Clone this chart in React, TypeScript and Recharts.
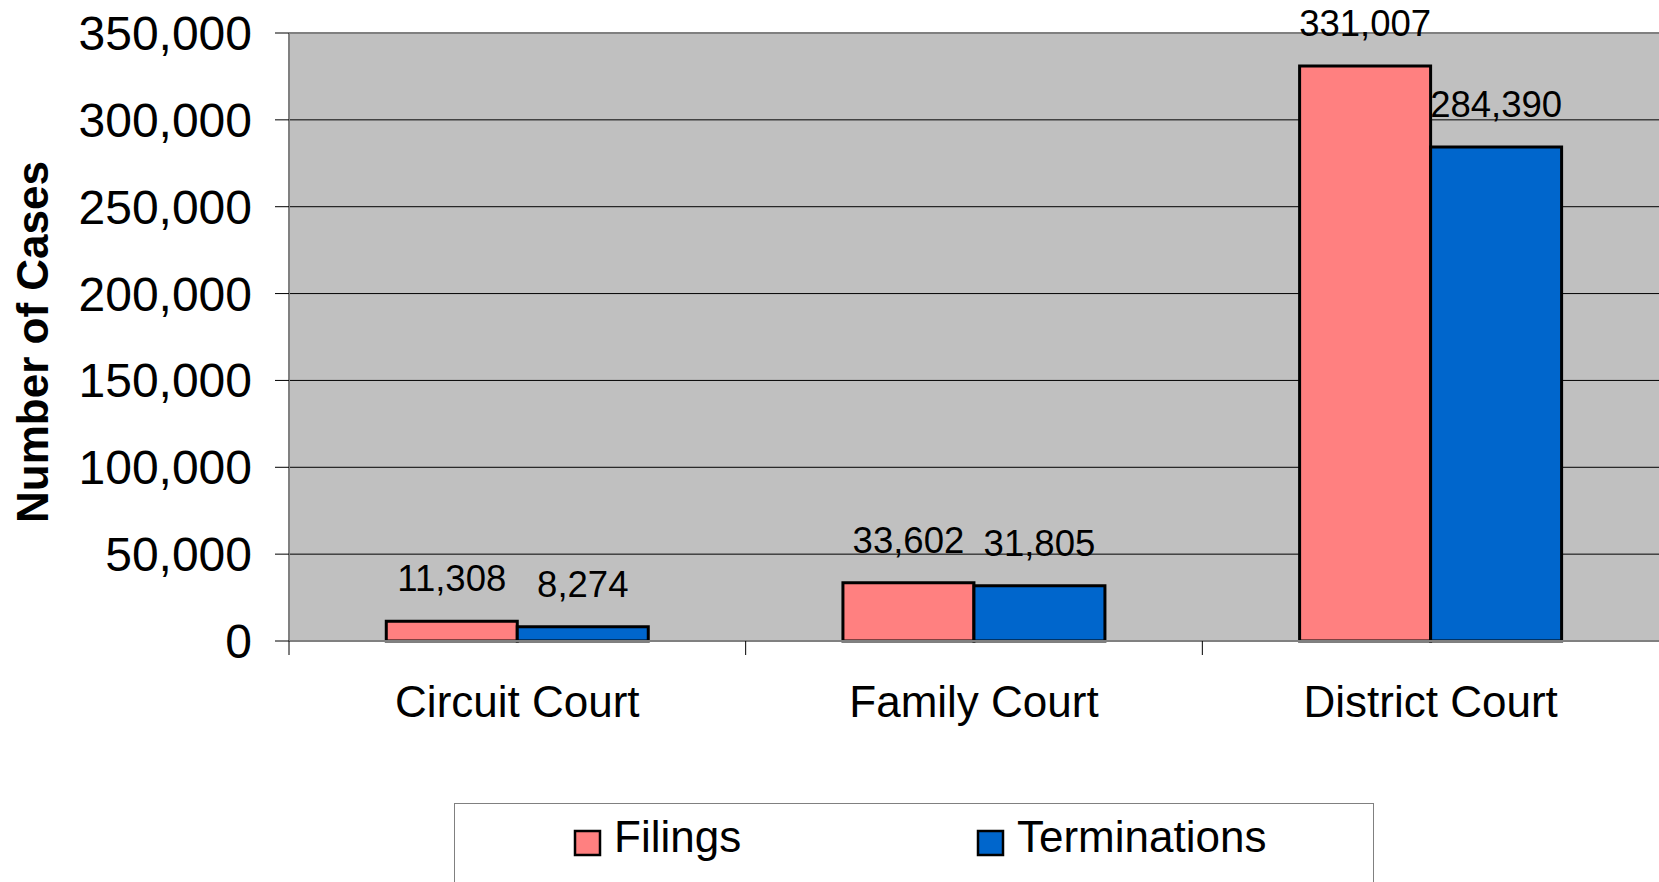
import { BarChart, Bar, XAxis, YAxis, CartesianGrid, Legend, LabelList, ReferenceLine, Label } from 'recharts'

const courts = ['Circuit Court', 'Family Court', 'District Court']
const filings = [11308, 33602, 331007]
const terminations = [8274, 31805, 284390]
const yTicks = [0, 50000, 100000, 150000, 200000, 250000, 300000, 350000]

const data = courts.map((court, i) => ({ court, filings: filings[i], terminations: terminations[i] }))

const W = 1659
const H = 882
const AXIS_W = 289
const FONT = '"Liberation Sans", Arial, sans-serif'
const band = (W - AXIS_W) / courts.length

const fmt = (v: number) => v.toLocaleString('en-US')

function CourtTick(props: any) {
  const { x, y, payload } = props
  const left = x - band / 2
  return (
    <g>
      <line x1={left} y1={y} x2={left} y2={y + 14} stroke="#000" strokeWidth={1} />
      <text x={x} y={y + 76} textAnchor="middle" fontSize={44} fontFamily={FONT} fill="#000">
        {payload.value}
      </text>
    </g>
  )
}

function LegendBox() {
  const items = [
    { name: 'Filings', color: '#FF8080', x: 575 },
    { name: 'Terminations', color: '#0066CC', x: 978 },
  ]
  return (
    <svg width={920} height={100} style={{ display: 'block' }}>
      <rect x={0.5} y={0.5} width={919} height={120} fill="#fff" stroke="#808080" strokeWidth={1} />
      {items.map((it) => (
        <g key={it.name}>
          <rect x={it.x - 454} y={28} width={25} height={24} fill={it.color} stroke="#000" strokeWidth={2.5} />
          <text x={it.x - 454 + 39} y={49} fontSize={44} fontFamily={FONT} fill="#000">
            {it.name}
          </text>
        </g>
      ))}
    </svg>
  )
}

export default function App() {
  return (
    <div style={{ position: 'absolute', left: 0, top: 0, width: W, height: H, overflow: 'hidden', background: '#fff' }}>
      <BarChart
        width={W}
        height={H}
        data={data}
        margin={{ top: 33, right: 0, left: 0, bottom: 141 }}
        barCategoryGap="21.3%"
        barGap={0}
      >
        <CartesianGrid vertical={false} stroke="#000" strokeWidth={1} fill="#C0C0C0" fillOpacity={1} />
        <XAxis
          dataKey="court"
          height={100}
          axisLine={{ stroke: '#808080', strokeWidth: 2 }}
          tickLine={false}
          tickSize={0}
          tickMargin={0}
          tick={<CourtTick />}
          interval={0}
        />
        <YAxis
          width={AXIS_W}
          domain={[0, 350000]}
          ticks={yTicks}
          interval={0}
          tickFormatter={fmt}
          axisLine={{ stroke: '#808080', strokeWidth: 2 }}
          tickLine={{ stroke: '#000', strokeWidth: 1 }}
          tickSize={14}
          tickMargin={23}
          tick={{ fill: '#000', fontSize: 48, fontFamily: FONT }}
        >
          <Label
            content={({ viewBox }: any) => {
              const cy = viewBox.y + viewBox.height / 2 + 5
              return (
                <text
                  x={32}
                  y={cy}
                  transform={`rotate(-90, 32, ${cy})`}
                  textAnchor="middle"
                  dominantBaseline="central"
                  fontSize={44}
                  fontWeight="bold"
                  fontFamily={FONT}
                  fill="#000"
                >
                  Number of Cases
                </text>
              )
            }}
          />
        </YAxis>
        <ReferenceLine y={350000} stroke="#808080" strokeWidth={2} />
        <Legend
          layout="horizontal"
          verticalAlign="middle"
          align="center"
          wrapperStyle={{ left: 454, top: 803, width: 920, height: 100 }}
          content={() => <LegendBox />}
        />
        <Bar dataKey="filings" name="Filings" fill="#FF8080" stroke="#000" strokeWidth={3} isAnimationActive={false}>
          <LabelList dataKey="filings" position="top" offset={30} formatter={(v: any) => fmt(v)} fill="#000" fontSize={36.5} fontFamily={FONT} />
        </Bar>
        <Bar dataKey="terminations" name="Terminations" fill="#0066CC" stroke="#000" strokeWidth={3} isAnimationActive={false}>
          <LabelList dataKey="terminations" position="top" offset={30} formatter={(v: any) => fmt(v)} fill="#000" fontSize={36.5} fontFamily={FONT} />
        </Bar>
      </BarChart>
    </div>
  )
}
